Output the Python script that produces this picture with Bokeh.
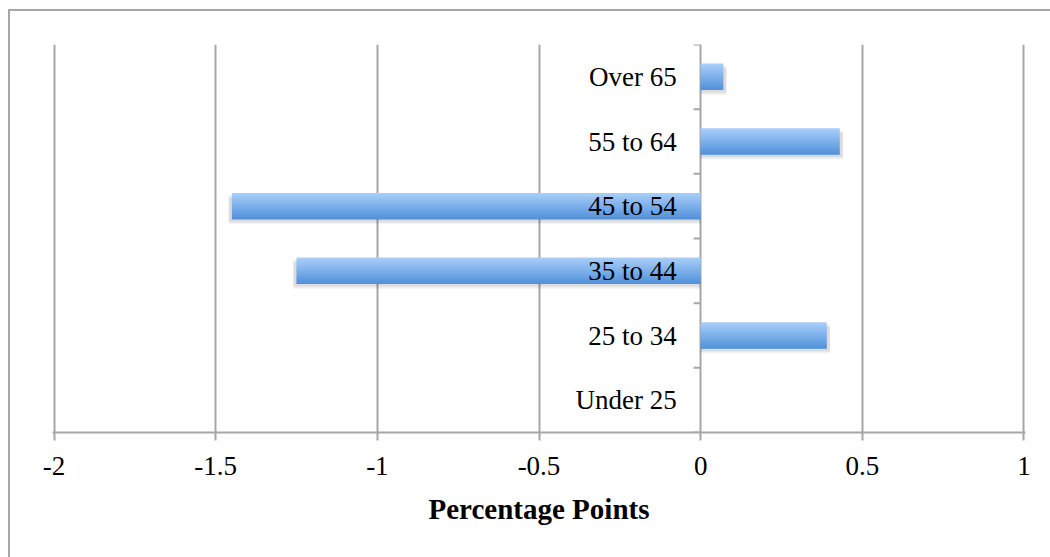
from bokeh.plotting import figure
from bokeh.models import FactorRange, Range1d, FixedTicker, ColumnDataSource, CustomJSTickFormatter
from bokeh.transform import dodge
from bokeh.core.properties import value
from bokeh.embed import file_html
from bokeh.resources import INLINE

categories = ["Under 25", "25 to 34", "35 to 44", "45 to 54", "55 to 64", "Over 65"]
values = [0.0, 0.39, -1.25, -1.45, 0.43, 0.07]
x_ticks = [-2, -1.5, -1, -0.5, 0, 0.5, 1]
x_title = "Percentage Points"

FONT = "Liberation Serif"
GRAY = "#a6a6a6"

# outer chart border (left and top edges only are inside the picture)
frame_css = ("linear-gradient(#a6a6a6, #a6a6a6) 8px 9px / 2px calc(100% - 9px) no-repeat, "
             "linear-gradient(#a6a6a6, #a6a6a6) 8px 9px / calc(100% - 8px) 2px no-repeat, "
             "#ffffff")

p = figure(width=1050, height=557, x_range=Range1d(-2.005, 1.005),
           y_range=FactorRange(factors=categories, range_padding=0),
           output_backend="svg", toolbar_location=None, y_axis_location=None,
           min_border_left=52, min_border_right=25, min_border_top=44, min_border_bottom=125,
           styles={"background": frame_css})
p.outline_line_color = None
p.background_fill_color = "white"
p.border_fill_alpha = 0
p.ygrid.visible = False
p.xgrid.ticker = FixedTicker(ticks=x_ticks)
p.xgrid.grid_line_color = GRAY
p.xgrid.grid_line_width = 2

ax = p.xaxis[0]
ax.ticker = FixedTicker(ticks=x_ticks)
ax.formatter = CustomJSTickFormatter(code="return tick.toString();")
ax.axis_line_color = GRAY
ax.axis_line_width = 2
ax.major_tick_line_color = GRAY
ax.major_tick_line_width = 2
ax.major_tick_out = 8
ax.major_tick_in = 0
ax.minor_tick_line_color = None
ax.major_label_text_font = FONT
ax.major_label_text_font_size = "27px"
ax.major_label_text_color = "black"
ax.major_label_standoff = 16
ax.axis_label = x_title
ax.axis_label_text_font = FONT
ax.axis_label_text_font_size = "29px"
ax.axis_label_text_font_style = "bold"
ax.axis_label_text_color = "black"
ax.axis_label_standoff = 15

src = ColumnDataSource(dict(cat=categories, val=values,
                            shadow_val=[v + (0.01 if v > 0 else -0.01 if v < 0 else 0) for v in values]))

bar_h = 0.41
# soft drop shadow
for off, alpha in [(-0.075, 0.04), (-0.055, 0.05), (-0.035, 0.05)]:
    p.hbar(y=dodge("cat", off, range=p.y_range), left=0, right="shadow_val", height=bar_h,
           fill_color="black", fill_alpha=alpha, line_color=None, source=src)

# gradient bars (top light -> bottom dark)
top_rgb = (0xa8, 0xcd, 0xf9)
bot_rgb = (0x52, 0x92, 0xdb)
n = 20
sl = bar_h / n
for i in range(n):
    t = i / (n - 1)
    rgb = tuple(int(round(top_rgb[k] + (bot_rgb[k] - top_rgb[k]) * t)) for k in range(3))
    col = "#%02x%02x%02x" % rgb
    hh = sl * 1.6 if i < n - 1 else sl
    off = bar_h / 2 - sl * i - hh / 2
    p.hbar(y=dodge("cat", off, range=p.y_range), left=0, right="val", height=hh,
           fill_color=col, line_color=None, source=src)

# category boundary ticks on the zero line
tick_len = 7 / (971 / 3)
p.segment(x0=0, x1=-tick_len, y0=dodge("cat", -0.5, range=p.y_range),
          y1=dodge("cat", -0.5, range=p.y_range), line_color=GRAY, line_width=2, source=src)
top_src = ColumnDataSource(dict(cat=[categories[-1]]))
p.segment(x0=0, x1=-tick_len, y0=dodge("cat", 0.5, range=p.y_range),
          y1=dodge("cat", 0.5, range=p.y_range), line_color=GRAY, line_width=2, source=top_src)

# category labels
p.text(x=0, y="cat", text="cat", x_offset=-24, text_align="right", text_baseline="middle",
       text_font=value(FONT), text_font_size="27px", text_color="black", source=src)

open("out.html", "w").write(file_html(p, INLINE))
